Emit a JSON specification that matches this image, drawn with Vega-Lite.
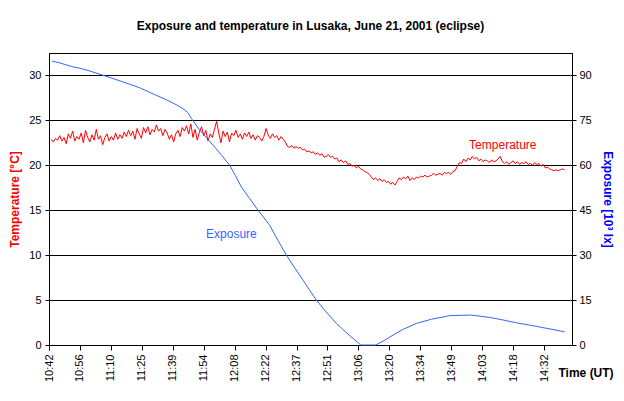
{
  "$schema": "https://vega.github.io/schema/vega-lite/v6.json",
  "width": 523,
  "height": 292,
  "autosize": {"type": "none"},
  "padding": {"left": 49, "top": 53, "right": 52, "bottom": 56},
  "background": "white",
  "config": {
    "font": "Liberation Sans",
    "view": {"stroke": "black", "strokeWidth": 1},
    "axis": {"labelFont": "Liberation Sans", "labelFontSize": 11, "labelColor": "black", "domainColor": "black", "tickColor": "black", "titleFont": "Liberation Sans", "titleFontSize": 12, "titleFontWeight": "bold", "labelOverlap": false}
  },
  "title": {"text": "Exposure and temperature in Lusaka, June 21, 2001 (eclipse)", "fontSize": 12, "fontWeight": "bold", "font": "Liberation Sans", "color": "black", "offset": 20},
  "datasets": {
    "temp": [
      {"minute":1,"temperature":22.9},{"minute":2,"temperature":22.6},{"minute":3,"temperature":23.0},{"minute":4,"temperature":22.8},{"minute":5,"temperature":23.3},{"minute":6,"temperature":22.7},{"minute":7,"temperature":23.1},{"minute":8,"temperature":22.4},{"minute":9,"temperature":23.5},{"minute":10,"temperature":23.0},
      {"minute":11,"temperature":23.8},{"minute":12,"temperature":22.7},{"minute":13,"temperature":23.2},{"minute":14,"temperature":22.9},{"minute":15,"temperature":23.6},{"minute":16,"temperature":22.5},{"minute":17,"temperature":23.9},{"minute":18,"temperature":23.1},{"minute":19,"temperature":22.6},{"minute":20,"temperature":23.4},
      {"minute":21,"temperature":22.8},{"minute":22,"temperature":24.0},{"minute":23,"temperature":22.9},{"minute":24,"temperature":23.3},{"minute":25,"temperature":22.3},{"minute":26,"temperature":23.1},{"minute":27,"temperature":23.5},{"minute":28,"temperature":22.7},{"minute":29,"temperature":23.2},{"minute":30,"temperature":22.8},
      {"minute":31,"temperature":23.6},{"minute":32,"temperature":22.9},{"minute":33,"temperature":23.4},{"minute":34,"temperature":23.0},{"minute":35,"temperature":23.7},{"minute":36,"temperature":23.2},{"minute":37,"temperature":23.9},{"minute":38,"temperature":23.3},{"minute":39,"temperature":23.8},{"minute":40,"temperature":22.9},
      {"minute":41,"temperature":24.1},{"minute":42,"temperature":23.5},{"minute":43,"temperature":23.0},{"minute":44,"temperature":24.2},{"minute":45,"temperature":23.6},{"minute":46,"temperature":24.3},{"minute":47,"temperature":23.4},{"minute":48,"temperature":24.0},{"minute":49,"temperature":23.7},{"minute":50,"temperature":24.5},
      {"minute":51,"temperature":23.8},{"minute":52,"temperature":24.1},{"minute":53,"temperature":23.3},{"minute":54,"temperature":24.0},{"minute":55,"temperature":23.6},{"minute":56,"temperature":22.9},{"minute":57,"temperature":23.4},{"minute":58,"temperature":22.6},{"minute":59,"temperature":23.5},{"minute":60,"temperature":23.9},
      {"minute":61,"temperature":23.2},{"minute":62,"temperature":24.2},{"minute":63,"temperature":23.8},{"minute":64,"temperature":24.4},{"minute":65,"temperature":23.5},{"minute":66,"temperature":24.6},{"minute":67,"temperature":23.1},{"minute":68,"temperature":24.0},{"minute":69,"temperature":22.8},{"minute":70,"temperature":23.7},
      {"minute":71,"temperature":24.3},{"minute":72,"temperature":23.3},{"minute":73,"temperature":23.9},{"minute":74,"temperature":22.7},{"minute":75,"temperature":23.5},{"minute":76,"temperature":23.1},{"minute":77,"temperature":24.0},{"minute":78,"temperature":24.9},{"minute":79,"temperature":23.6},{"minute":80,"temperature":22.5},
      {"minute":81,"temperature":23.8},{"minute":82,"temperature":23.2},{"minute":83,"temperature":23.7},{"minute":84,"temperature":22.6},{"minute":85,"temperature":23.6},{"minute":86,"temperature":23.3},{"minute":87,"temperature":23.9},{"minute":88,"temperature":23.1},{"minute":89,"temperature":23.5},{"minute":90,"temperature":22.9},
      {"minute":91,"temperature":23.6},{"minute":92,"temperature":23.2},{"minute":93,"temperature":23.7},{"minute":94,"temperature":23.0},{"minute":95,"temperature":23.4},{"minute":96,"temperature":22.8},{"minute":97,"temperature":23.3},{"minute":98,"temperature":23.1},{"minute":99,"temperature":22.7},{"minute":100,"temperature":23.2},
      {"minute":101,"temperature":24.1},{"minute":102,"temperature":23.4},{"minute":103,"temperature":23.0},{"minute":104,"temperature":23.5},{"minute":105,"temperature":23.1},{"minute":106,"temperature":23.3},{"minute":107,"temperature":22.8},{"minute":108,"temperature":23.2},{"minute":109,"temperature":22.9},{"minute":110,"temperature":22.6},
      {"minute":111,"temperature":22.1},{"minute":112,"temperature":22.0},{"minute":113,"temperature":22.2},{"minute":114,"temperature":21.9},{"minute":115,"temperature":22.1},{"minute":116,"temperature":21.9},{"minute":117,"temperature":22.0},{"minute":118,"temperature":21.7},{"minute":119,"temperature":21.8},{"minute":120,"temperature":21.5},
      {"minute":121,"temperature":21.6},{"minute":122,"temperature":21.4},{"minute":123,"temperature":21.5},{"minute":124,"temperature":21.2},{"minute":125,"temperature":21.4},{"minute":126,"temperature":21.1},{"minute":127,"temperature":21.3},{"minute":128,"temperature":20.9},{"minute":129,"temperature":21.0},{"minute":130,"temperature":21.2},
      {"minute":131,"temperature":20.9},{"minute":132,"temperature":21.0},{"minute":133,"temperature":20.7},{"minute":134,"temperature":20.8},{"minute":135,"temperature":20.4},{"minute":136,"temperature":20.6},{"minute":137,"temperature":20.3},{"minute":138,"temperature":20.5},{"minute":139,"temperature":20.1},{"minute":140,"temperature":20.2},
      {"minute":141,"temperature":19.9},{"minute":142,"temperature":20.0},{"minute":143,"temperature":19.7},{"minute":144,"temperature":19.9},{"minute":145,"temperature":19.6},{"minute":146,"temperature":19.5},{"minute":147,"temperature":19.3},{"minute":148,"temperature":19.2},{"minute":149,"temperature":19.0},{"minute":150,"temperature":18.7},
      {"minute":151,"temperature":18.4},{"minute":152,"temperature":18.6},{"minute":153,"temperature":18.3},{"minute":154,"temperature":18.5},{"minute":155,"temperature":18.2},{"minute":156,"temperature":18.4},{"minute":157,"temperature":18.1},{"minute":158,"temperature":18.2},{"minute":159,"temperature":17.9},{"minute":160,"temperature":18.1},
      {"minute":161,"temperature":17.8},{"minute":162,"temperature":18.2},{"minute":163,"temperature":18.6},{"minute":164,"temperature":18.4},{"minute":165,"temperature":18.7},{"minute":166,"temperature":18.5},{"minute":167,"temperature":18.8},{"minute":168,"temperature":18.3},{"minute":169,"temperature":18.6},{"minute":170,"temperature":18.4},
      {"minute":171,"temperature":18.7},{"minute":172,"temperature":18.6},{"minute":173,"temperature":18.8},{"minute":174,"temperature":18.7},{"minute":175,"temperature":18.9},{"minute":176,"temperature":18.7},{"minute":177,"temperature":18.8},{"minute":178,"temperature":18.9},{"minute":179,"temperature":19.1},{"minute":180,"temperature":18.9},
      {"minute":181,"temperature":19.0},{"minute":182,"temperature":19.1},{"minute":183,"temperature":18.9},{"minute":184,"temperature":19.2},{"minute":185,"temperature":19.1},{"minute":186,"temperature":19.2},{"minute":187,"temperature":19.0},{"minute":188,"temperature":19.3},{"minute":189,"temperature":19.4},{"minute":190,"temperature":19.9},
      {"minute":191,"temperature":20.3},{"minute":192,"temperature":20.2},{"minute":193,"temperature":20.7},{"minute":194,"temperature":20.4},{"minute":195,"temperature":20.8},{"minute":196,"temperature":20.6},{"minute":197,"temperature":21.0},{"minute":198,"temperature":20.7},{"minute":199,"temperature":20.9},{"minute":200,"temperature":20.5},
      {"minute":201,"temperature":20.7},{"minute":202,"temperature":20.4},{"minute":203,"temperature":20.6},{"minute":204,"temperature":20.5},{"minute":205,"temperature":20.3},{"minute":206,"temperature":20.6},{"minute":207,"temperature":20.4},{"minute":208,"temperature":20.5},{"minute":209,"temperature":20.7},{"minute":210,"temperature":21.0},
      {"minute":211,"temperature":20.4},{"minute":212,"temperature":20.2},{"minute":213,"temperature":20.4},{"minute":214,"temperature":20.1},{"minute":215,"temperature":20.3},{"minute":216,"temperature":20.5},{"minute":217,"temperature":20.2},{"minute":218,"temperature":20.4},{"minute":219,"temperature":20.1},{"minute":220,"temperature":20.3},
      {"minute":221,"temperature":20.2},{"minute":222,"temperature":20.4},{"minute":223,"temperature":20.1},{"minute":224,"temperature":20.2},{"minute":225,"temperature":20.0},{"minute":226,"temperature":20.3},{"minute":227,"temperature":20.1},{"minute":228,"temperature":20.2},{"minute":229,"temperature":19.9},{"minute":230,"temperature":20.1},
      {"minute":231,"temperature":19.7},{"minute":232,"temperature":19.8},{"minute":233,"temperature":19.6},{"minute":234,"temperature":19.5},{"minute":235,"temperature":19.4},{"minute":236,"temperature":19.5},{"minute":237,"temperature":19.4},{"minute":238,"temperature":19.5},{"minute":239,"temperature":19.6},{"minute":240,"temperature":19.5}
    ],
    "exp": [
      {"minute":1.4,"exposure":94.8},{"minute":5,"exposure":94.2},{"minute":10.4,"exposure":93.0},{"minute":15,"exposure":92.3},{"minute":18.9,"exposure":91.5},{"minute":25.9,"exposure":89.9},{"minute":33.8,"exposure":88.0},{"minute":42.2,"exposure":85.9},{"minute":49.2,"exposure":83.6},{"minute":54.6,"exposure":81.9},
      {"minute":58.5,"exposure":80.5},{"minute":62.4,"exposure":78.9},{"minute":64.6,"exposure":77.6},{"minute":66.3,"exposure":75.6},{"minute":70.1,"exposure":71.8},{"minute":73.5,"exposure":69.0},{"minute":77.1,"exposure":66.1},{"minute":80.5,"exposure":63.2},{"minute":84.1,"exposure":60.0},{"minute":86.8,"exposure":56.5},
      {"minute":89.5,"exposure":52.8},{"minute":93.5,"exposure":48.8},{"minute":97.3,"exposure":45.0},{"minute":102.7,"exposure":40.0},{"minute":106.5,"exposure":35.0},{"minute":110.5,"exposure":30.0},{"minute":114.5,"exposure":25.6},{"minute":118.2,"exposure":21.7},{"minute":121.3,"exposure":18.3},{"minute":124.4,"exposure":15.0},
      {"minute":129,"exposure":11.0},{"minute":133.8,"exposure":7.2},{"minute":137.8,"exposure":4.5},{"minute":141.5,"exposure":2.2},{"minute":143.5,"exposure":1.0},{"minute":145.1,"exposure":0},{"minute":152.0,"exposure":0},{"minute":156,"exposure":1.5},{"minute":160.1,"exposure":3.3},{"minute":165,"exposure":5.3},
      {"minute":171.0,"exposure":7.2},{"minute":178,"exposure":8.6},{"minute":186.5,"exposure":9.8},{"minute":196.6,"exposure":10.0},{"minute":205.1,"exposure":9.2},{"minute":211,"exposure":8.4},{"minute":217.5,"exposure":7.4},{"minute":224,"exposure":6.6},{"minute":229.9,"exposure":5.8},{"minute":235,"exposure":5.1},{"minute":240.0,"exposure":4.4}
    ]
  },
  "layer": [
    {
      "layer": [
        {
          "data": {"name": "temp"},
          "mark": {"type": "line", "color": "#ff0000", "strokeWidth": 1},
          "encoding": {
            "x": {"field": "minute", "type": "quantitative", "scale": {"domain": [0, 243.4], "nice": false, "zero": false},
              "axis": {"values": [0,14.4,28.8,43.2,57.6,72,86.4,100.8,115.2,129.6,144,158.4,172.8,187.2,201.6,216,230.4], "tickCount": 30,
                "labelExpr": "floor((642+datum.value)/60) + ':' + (floor((642+datum.value)%60) < 10 ? '0' : '') + floor((642+datum.value)%60)",
                "labelAngle": 270, "labelAlign": "right", "labelBaseline": "middle", "labelPadding": 4, "tickSize": 5, "grid": false, "labelOverlap": false,
                "title": "Time (UT)", "titleAngle": 0, "titleAlign": "left", "titleBaseline": "alphabetic", "titleX": 509, "titleY": 31, "titleColor": "black"}},
            "y": {"field": "temperature", "type": "quantitative", "scale": {"domain": [0, 32.5], "nice": false},
              "axis": {"values": [0,5,10,15,20,25,30], "tickCount": 10, "grid": true, "gridColor": "black", "gridOpacity": 1, "gridWidth": 1, "tickSize": 4, "labelPadding": 4,
                "title": "Temperature [°C]", "titleColor": "#ff0000", "titlePadding": 7}}
          }
        },
        {
          "data": {"values": [{"label": "Temperature"}]},
          "mark": {"type": "text", "color": "#ff0000", "fontSize": 12, "font": "Liberation Sans"},
          "encoding": {"x": {"datum": 211.2, "type": "quantitative"}, "y": {"datum": 22.3, "type": "quantitative"}, "text": {"field": "label"}}
        }
      ]
    },
    {
      "layer": [
        {
          "data": {"name": "exp"},
          "mark": {"type": "line", "color": "#3366ff", "strokeWidth": 1},
          "encoding": {
            "x": {"field": "minute", "type": "quantitative"},
            "y": {"field": "exposure", "type": "quantitative", "scale": {"domain": [0, 97.5], "nice": false},
              "axis": {"orient": "right", "values": [0,15,30,45,60,75,90], "tickCount": 10, "grid": false, "tickSize": 4, "labelPadding": 3,
                "title": "Exposure [10³ lx]", "titleColor": "#0000ff", "titlePadding": 9}}
          }
        },
        {
          "data": {"values": [{"label": "Exposure"}]},
          "mark": {"type": "text", "color": "#3366ff", "fontSize": 12, "font": "Liberation Sans"},
          "encoding": {"x": {"datum": 84.9, "type": "quantitative"}, "y": {"datum": 37.2, "type": "quantitative"}, "text": {"field": "label"}}
        }
      ]
    }
  ],
  "resolve": {"scale": {"y": "independent"}}
}
